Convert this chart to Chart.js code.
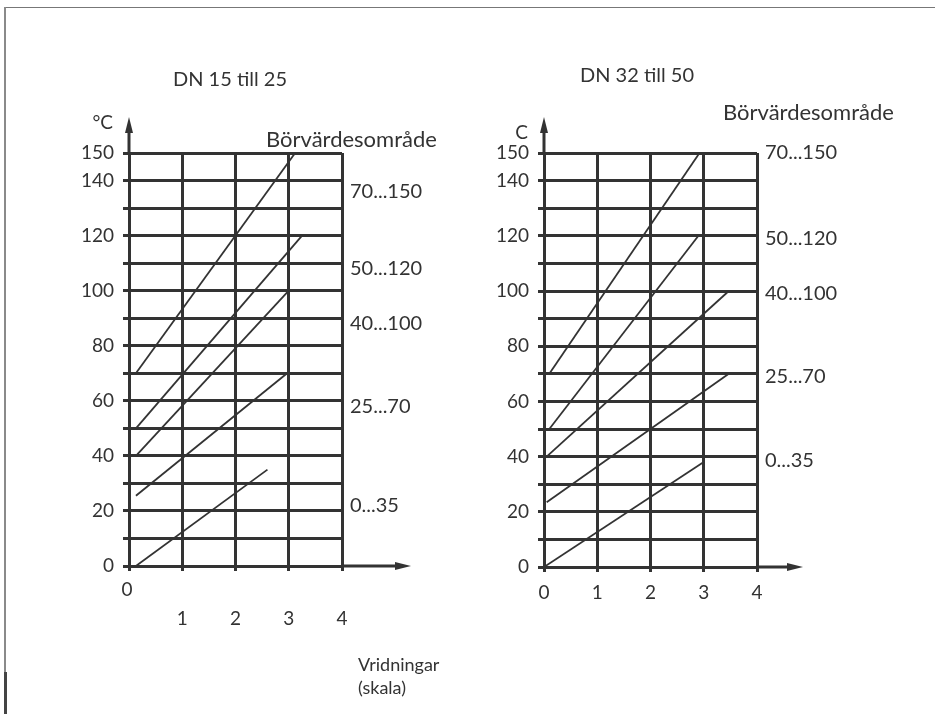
<!DOCTYPE html>
<html lang="sv">
<head>
<meta charset="UTF-8">
<title>Börvärdesområde</title>
<script src="https://cdn.jsdelivr.net/npm/chart.js"></script>
<style>
  body { margin: 0; background: #fff; }
  .page { position: relative; width: 935px; height: 714px; overflow: hidden; }
  .frame-top { position: absolute; left: 4px; top: 7px; width: 931px; border-top: 1.5px solid #777; }
  .frame-left { position: absolute; left: 4px; top: 7px; height: 707px; border-left: 2px solid #8a8a8a; }
  .frame-left-dark { position: absolute; left: 4px; top: 672px; height: 42px; border-left: 3px solid #444; }
  canvas { position: absolute; top: 0; }
  #left { left: 0; }
  #right { left: 467px; }
</style>
</head>
<body>
<div class="page">
  <div class="frame-top"></div>
  <div class="frame-left"></div>
  <div class="frame-left-dark"></div>
  <canvas id="left" width="467" height="714"></canvas>
  <canvas id="right" width="468" height="714"></canvas>
</div>

<script>
// setpoint ranges (Börvärdesområde)
const ranges = ['0...35', '25...70', '40...100', '50...120', '70...150'];

// DN 15 till 25 - start and end of each line (turns, °C)
const leftStartX = [0.13, 0.13, 0.13, 0.13, 0.13];
const leftStartY = [0, 25.5, 40, 50, 70];
const leftEndX = [2.6, 2.97, 3.0, 3.25, 3.12];
const leftEndY = [35, 70, 100, 120, 150];

// DN 32 till 50
const rightStartX = [0, 0.05, 0.05, 0.1, 0.1];
const rightStartY = [0, 23.5, 40, 50, 70];
const rightEndX = [3.0, 3.47, 3.47, 2.9, 2.92];
const rightEndY = [38, 70, 100, 120, 150];

// axis ticks
const yLabels = [0, 20, 40, 60, 80, 100, 120, 140, 150];
const xLabels = [0, 1, 2, 3, 4];

// where the range names sit (°C level on each chart)
const leftRangeLabelY = [22, 58, 88, 108, 136];
const rightRangeLabelY = [38.5, 69, 99, 119, 150];

const INK = '#333';
const FONT = 'Lato, "Open Sans", sans-serif';
Chart.defaults.font.family = FONT;
Chart.defaults.color = INK;

function makeDatasets(sx, sy, ex, ey) {
    return ranges.map((r, i) => ({
        label: r,
        data: [{x: sx[i], y: sy[i]}, {x: ex[i], y: ey[i]}],
        showLine: true,
        borderColor: INK,
        borderWidth: 1.8,
        pointRadius: 0,
        pointHoverRadius: 0
    }));
}

function drawText(ctx, txt, x, y, size, align) {
    ctx.font = size + 'px ' + FONT;
    ctx.fillStyle = INK;
    ctx.textAlign = align || 'left';
    ctx.textBaseline = 'middle';
    ctx.fillText(txt, x, y);
}

// arrows on the axes + all the free text
function makeDecor(cfg) {
    return {
        id: 'decor',
        afterDraw(chart) {
            const ctx = chart.ctx;
            const xs = chart.scales.x, ys = chart.scales.y;
            const x0 = xs.getPixelForValue(0), y0 = ys.getPixelForValue(0);
            const top = ys.getPixelForValue(150);
            ctx.save();
            ctx.strokeStyle = INK;
            ctx.fillStyle = INK;
            ctx.lineWidth = 3;
            // y axis up
            ctx.beginPath();
            ctx.moveTo(x0, top);
            ctx.lineTo(x0, cfg.arrowTop + 10);
            ctx.stroke();
            ctx.beginPath();
            ctx.moveTo(x0, cfg.arrowTop);
            ctx.lineTo(x0 - 4, cfg.arrowTop + 16);
            ctx.lineTo(x0 + 4, cfg.arrowTop + 16);
            ctx.closePath();
            ctx.fill();
            // x axis right
            const xr = xs.getPixelForValue(4);
            ctx.beginPath();
            ctx.moveTo(xr, y0);
            ctx.lineTo(cfg.arrowRight - 10, y0);
            ctx.stroke();
            ctx.beginPath();
            ctx.moveTo(cfg.arrowRight, y0);
            ctx.lineTo(cfg.arrowRight - 16, y0 - 4);
            ctx.lineTo(cfg.arrowRight - 16, y0 + 4);
            ctx.closePath();
            ctx.fill();

            drawText(ctx, cfg.title, cfg.titleX, cfg.titleY, 20, 'center');
            drawText(ctx, cfg.unit, x0 - 16, cfg.unitY, 19, 'right');
            drawText(ctx, 'Börvärdesområde', cfg.headX, cfg.headY, 22, 'left');
            const lx = xs.getPixelForValue(4) + 8;
            ranges.forEach((r, i) => drawText(ctx, r, lx, ys.getPixelForValue(cfg.rangeY[i]), 20, 'left'));
            if (cfg.zero) drawText(ctx, '0', x0 - 2, y0 + 24, 19, 'center');
            if (cfg.xTitle) {
                drawText(ctx, 'Vridningar', 358, 665, 18, 'left');
                drawText(ctx, '(skala)', 358, 688, 18, 'left');
            }
            ctx.restore();
        }
    };
}

function makeChart(id, datasets, pad, yWidth, xHeight, xPad, decor, hideZero) {
    return new Chart(document.getElementById(id), {
        type: 'scatter',
        data: {datasets: datasets},
        options: {
            responsive: false,
            animation: false,
            events: [],
            layout: {padding: pad},
            plugins: {legend: {display: false}, tooltip: {enabled: false}},
            scales: {
                x: {
                    type: 'linear', min: 0, max: 4,
                    afterFit(s) { s.height = xHeight; },
                    afterBuildTicks(s) { s.ticks = xLabels.map(v => ({value: v})); },
                    ticks: {
                        padding: xPad,
                        font: {size: 19},
                        color: INK,
                        callback: v => (hideZero && v === 0) ? '' : String(v)
                    },
                    grid: {color: INK, lineWidth: 3, tickLength: 5},
                    border: {color: INK, width: 3}
                },
                y: {
                    type: 'linear', min: 0, max: 150,
                    afterFit(s) { s.width = yWidth; },
                    ticks: {
                        stepSize: 10,
                        padding: 9,
                        font: {size: 19},
                        color: INK,
                        autoSkip: false,
                        callback: v => yLabels.includes(v) ? String(v) : ''
                    },
                    grid: {color: INK, lineWidth: 3, tickLength: 6},
                    border: {color: INK, width: 3}
                }
            }
        },
        plugins: [makeDecor(decor)]
    });
}

makeChart('left', makeDatasets(leftStartX, leftStartY, leftEndX, leftEndY),
    {left: 69, right: 125, top: 153, bottom: 88}, 60, 60, 36,
    {arrowTop: 117, arrowRight: 411, title: 'DN 15 till 25', titleX: 230, titleY: 80,
     unit: '°C', unitY: 123, headX: 266, headY: 140, rangeY: leftRangeLabelY,
     zero: true, xTitle: true}, true);

makeChart('right', makeDatasets(rightStartX, rightStartY, rightEndX, rightEndY),
    {left: 27, right: 178, top: 153, bottom: 107}, 50, 40, 9,
    {arrowTop: 117, arrowRight: 336, title: 'DN 32 till 50', titleX: 170, titleY: 76,
     unit: 'C', unitY: 133, headX: 256, headY: 113, rangeY: rightRangeLabelY,
     zero: false, xTitle: false}, false);
</script>
</body>
</html>
